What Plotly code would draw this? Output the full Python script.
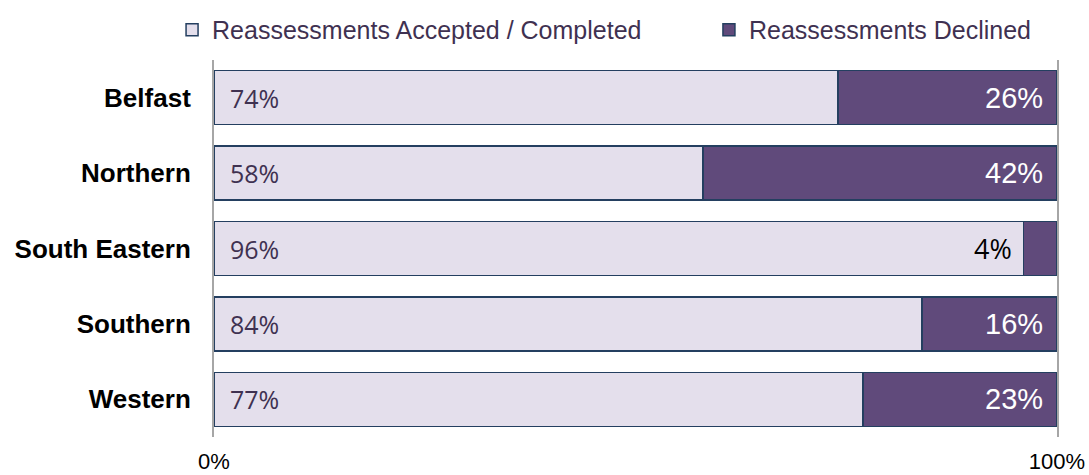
import plotly.graph_objects as go

categories = ["Belfast", "Northern", "South Eastern", "Southern", "Western"]
accepted = [74, 58, 96, 84, 77]
declined = [26, 42, 4, 16, 23]
series_names = ["Reassessments Accepted / Completed", "Reassessments Declined"]
x_tick_vals = [0, 100]
x_tick_text = ["0%", "100%"]

LIGHT = "#E4DFEC"
DARK = "#604A7B"
EDGE = "#243F60"
TXT = "#3F3151"

fig = go.Figure()
fig.add_trace(go.Bar(
    y=categories, x=accepted, orientation="h", name=series_names[0],
    marker=dict(color=LIGHT, line=dict(color=EDGE, width=1.5)),
    hoverinfo="skip", legend="legend",
))
fig.add_trace(go.Bar(
    y=categories, x=declined, orientation="h", name=series_names[1],
    marker=dict(color=DARK, line=dict(color=EDGE, width=1.5)),
    hoverinfo="skip", legend="legend2",
))

annotations = []
for cat, a, d in zip(categories, accepted, declined):
    annotations.append(dict(
        x=0, y=cat, xref="x", yref="y", text=f"{a}%", showarrow=False,
        xanchor="left", xshift=14,
        font=dict(family="Open Sans, sans-serif", size=25, color=TXT),
    ))
    if d >= 10:
        annotations.append(dict(
            x=a + d, y=cat, xref="x", yref="y", text=f"{d}%", showarrow=False,
            xanchor="right", xshift=-12,
            font=dict(family="Liberation Sans, Arial, sans-serif", size=29, color="white"),
        ))
    else:
        annotations.append(dict(
            x=a, y=cat, xref="x", yref="y", text=f"{d}%", showarrow=False,
            xanchor="right", xshift=-9,
            font=dict(family="Open Sans, sans-serif", size=27, color="black"),
        ))

legend_common = dict(
    orientation="h", xref="container", yref="container",
    xanchor="left", y=0.937, yanchor="middle",
    font=dict(family="Liberation Sans, Arial, sans-serif", size=25, color=TXT),
    bgcolor="rgba(0,0,0,0)",
)

fig.update_layout(
    barmode="stack",
    bargap=0.284,
    width=1089, height=475,
    margin=dict(l=214, r=32, t=60, b=38, autoexpand=False),
    paper_bgcolor="white", plot_bgcolor="white",
    showlegend=True,
    legend=dict(legend_common, x=0.158),
    legend2=dict(legend_common, x=0.651),
    annotations=annotations,
    xaxis=dict(
        range=[0, 100], tickvals=x_tick_vals, ticktext=x_tick_text,
        showgrid=False, zeroline=False, showline=False,
        tickfont=dict(family="Liberation Sans, Arial, sans-serif", size=22, color="black"),
        ticklabelstandoff=9, fixedrange=True,
    ),
    yaxis=dict(
        categoryorder="array", categoryarray=categories, autorange="reversed",
        showgrid=False, zeroline=False,
        showline=True, mirror=True, linecolor="#A6A6A6", linewidth=2,
        tickfont=dict(family="Liberation Sans, Arial, sans-serif", size=26, color="black",
                      weight="bold"),
        ticklabelstandoff=16, fixedrange=True,
    ),
)

fig.write_html("out.html", config={"displayModeBar": False},
               post_script="document.body.style.margin='0';")
